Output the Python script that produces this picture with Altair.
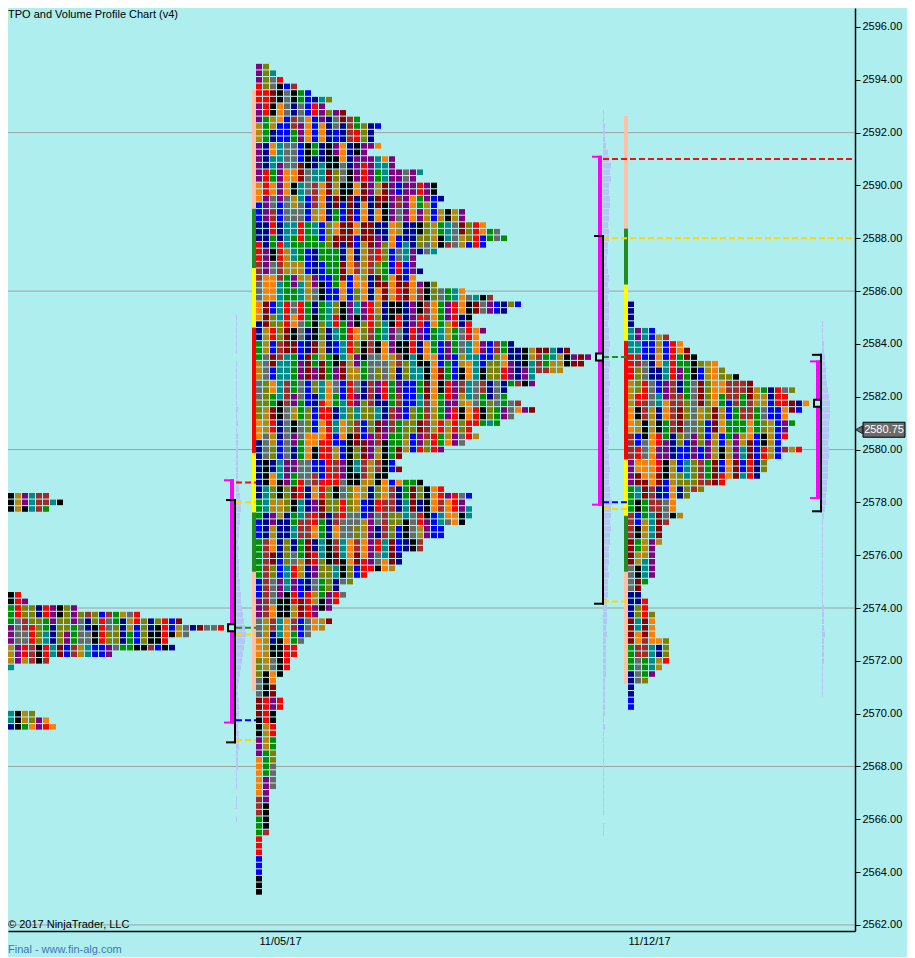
import altair as alt
import pandas as pd

# ---------------- data ----------------
TITLE = "TPO and Volume Profile Chart (v4)"
COPYRIGHT = "© 2017 NinjaTrader, LLC"
FOOTER = "Final - www.fin-alg.com"
LAST_PRICE = 2580.75

y_ticks = [2562, 2564, 2566, 2568, 2570, 2572, 2574, 2576, 2578, 2580,
           2582, 2584, 2586, 2588, 2590, 2592, 2594, 2596]
grid_prices = [2562, 2568, 2574, 2580, 2586, 2592]
date_labels = ["11/05/17", "11/12/17"]
date_pos = [280, 649]

palette = ["#008B8B", "#8B0000", "#009000", "#00008B", "#FF8000", "#800080",
           "#808000", "#A52A2A", "#696969", "#FF0000", "#0000FF", "#B8860B", "#000000"]

# profile 1 (previous week, partly visible)
p1_prices = [2578.25, 2578.0, 2577.75, 2574.75, 2574.5, 2574.25, 2574.0, 2573.75,
             2573.5, 2573.25, 2573.0, 2572.75, 2572.5, 2572.25, 2572.0, 2571.75,
             2570.0, 2569.75, 2569.5, 2569.25]
p1_counts = [7, 9, 7, 1, 3, 4, 11, 20, 26, 32, 27, 24, 25, 16, 7, 2, 5, 7, 8, 1]

# profile 2 (week of 11/05), rows from 2594.50 down by 0.25
p2_top = 2594.5
p2_counts = [2, 3, 4, 6, 8, 11, 10, 13, 15, 18, 17, 17, 18, 16, 20, 20, 24, 23, 26, 26,
             27, 26, 30, 30, 33, 35, 36, 33, 26,
             23, 23, 24, 23, 26, 30, 34, 38, 36, 31, 31, 33, 32, 37, 45, 48, 47, 44, 40, 40,
             36, 36, 38, 40, 37, 35, 31, 32, 30, 27, 21, 20, 21, 19,
             24, 27, 31, 30, 31, 31, 30, 27, 27, 24, 24, 21, 21, 20, 16, 14, 12, 13, 12, 11,
             9, 11, 10, 8, 7, 6, 6, 5, 5, 4, 3, 3,
             3, 4, 4, 3, 3, 3, 3, 3, 3, 3, 3, 3, 3, 3, 3, 2, 2, 2, 2, 2, 2, 2,
             1, 1, 1, 1, 1, 1, 1, 1, 1]

# profile 3 (week of 11/12), rows from 2585.50 down by 0.25
p3_top = 2585.5
p3_counts = [1, 1, 1, 1, 4, 6, 8, 9, 10, 13, 14, 16, 18, 24, 23, 26, 25, 23, 24, 23,
             23, 22, 25, 22, 20, 20, 19, 14, 11, 9,
             7, 7, 8, 6, 5, 5, 5, 4, 4, 4, 4, 4, 3, 2, 2, 3, 3, 4, 4, 4,
             4, 6, 6, 6, 6, 5, 4, 3, 1, 1, 1, 1]

# period / value-area colour bars at the left of profiles 2 and 3
p2_bar_edges = [2570.875, 2575.375, 2577.625, 2579.875, 2584.625, 2586.875, 2589.125, 2593.625]
p3_bar_edges = [2571.125, 2575.375, 2577.5, 2579.625, 2584.125, 2586.25, 2588.375, 2592.625]
bar_colors = ["#FFC1A6", "#228B22", "#FFFF00", "#FF0000", "#FFFF00", "#228B22", "#FFC1A6"]

# volume profiles (rows of 0.25 from the low price upward)
v1_low = 2566.0
v1 = [1, 0, 1, 1, 0, 1, 1, 1, 2,
      2, 2, 3, 3, 3, 2, 3, 3,
      3, 3, 2, 2, 3, 4, 5, 6,
      7, 8, 9, 10, 9, 8, 7, 6,
      5, 5, 4, 4, 3, 3, 3, 2,
      3, 2, 3, 3, 4, 4, 5, 5,
      4, 3, 3, 2, 2, 2, 2, 2,
      2, 2, 1, 2, 1, 2, 1, 1,
      1, 1, 1, 1, 1, 0, 1, 1, 1, 1, 1, 1]
v2_low = 2565.5
v2 = [1, 1, 0, 1, 1, 1, 1, 1, 1,
      1, 1, 1, 1, 1, 1, 1, 2, 1, 2,
      2, 2, 2, 2, 2, 3, 3, 3,
      3, 3, 3, 4, 3, 4, 4, 4,
      4, 5, 5, 5, 6, 5, 6, 6,
      6, 7, 7, 8, 7, 8, 8, 9,
      7, 7, 6, 6, 7, 6, 6, 5,
      6, 6, 5, 6, 6, 7, 6, 6,
      6, 7, 6, 6, 7, 6, 6, 7,
      6, 6, 5, 6, 6, 6, 5, 6,
      5, 6, 5, 4, 4, 5, 5, 6,
      6, 5, 6, 6, 7, 7, 6, 6,
      8, 7, 8, 6, 5, 3, 2, 2,
      2, 1, 1]
v3_low = 2570.75
v3 = [1, 1, 1, 1, 1, 2, 2, 2,
      2, 3, 2, 2, 2, 2, 1, 1,
      1, 1, 1, 1, 1, 1, 1, 1,
      1, 1, 1, 2, 3, 4, 4, 5,
      5, 6, 6, 6, 7, 7, 6, 7,
      7, 7, 8, 8, 8, 7, 6, 5,
      4, 4, 3, 3, 2, 2, 1, 1, 1]

# value areas and points of control per profile
va_tpo_lo = [2569.625, 2577.875, 2578.125]
va_tpo_hi = [2578.875, 2591.125, 2583.375]
va_vol_lo = [2568.875, 2574.125, 2577.625]
va_vol_hi = [2578.125, 2588.125, 2583.625]
poc = [2573.25, 2583.5, 2581.75]

# reference levels (dashed)
lvl_price = [2578.75, 2578.0, 2573.25, 2573.0, 2569.75, 2569.0,
             2591.0, 2588.0, 2583.5, 2578.0, 2577.75, 2574.25]
lvl_color = ["#F01010", "#FFD700", "#228B22", "#FFD700", "#0000FF", "#FFD700",
             "#F01010", "#FFD700", "#228B22", "#0000FF", "#FFD700", "#FFD700"]
lvl_profile = [0, 0, 0, 0, 0, 0, 1, 1, 1, 1, 1, 1]
lvl_naked = [False, False, False, False, False, False, True, True, False, False, False, False]

# ---------------- layout ----------------
FONT = "Liberation Sans"
BG = "#AFEEEE"
W, H = 847, 923
XMIN, XMAX = 8, 855
YMIN, YMAX = 2561.7702, 2596.7194
PX = (YMAX - YMIN) / H           # price per pixel
COL = 7
CELL_H = 0.21
profile_x = [1, 256, 628]
bracket_x = [230, 598, 816]
vol_x = [236, 603, 822]

# ---------------- tables ----------------
def shade(pi, r, c):
    run = 2 + (c * 7 + pi) % 3
    h = ((c + 1) * 73856093) ^ ((r // run + 1) * 19349663) ^ ((pi + 1) * 83492791)
    h = (h * 2654435761) & 0xFFFFFFFF
    return palette[(h >> 7) % len(palette)]

cells = []
def add_profile(pi, prices, counts, x0):
    for r, (p, n) in enumerate(zip(prices, counts)):
        for c in range(n):
            x = x0 + c * COL
            cells.append(dict(x=x, x2=x + COL - 1, y=p - CELL_H / 2, y2=p + CELL_H / 2,
                              color=shade(pi, r, c)))

add_profile(0, p1_prices, p1_counts, profile_x[0])
add_profile(1, [p2_top - 0.25 * i for i in range(len(p2_counts))], p2_counts, profile_x[1])
add_profile(2, [p3_top - 0.25 * i for i in range(len(p3_counts))], p3_counts, profile_x[2])
cells_df = pd.DataFrame(cells)

bars = []
for pi, edges in ((1, p2_bar_edges), (2, p3_bar_edges)):
    for i, col in enumerate(bar_colors):
        bars.append(dict(x=profile_x[pi] - 4, x2=profile_x[pi], y=edges[i], y2=edges[i + 1], color=col))
bars_df = pd.DataFrame(bars)

vols = []
for pi, (low, vals) in enumerate(((v1_low, v1), (v2_low, v2), (v3_low, v3))):
    for i, v in enumerate(vals):
        if v > 0:
            p = low + 0.25 * i
            vols.append(dict(x=vol_x[pi], x2=vol_x[pi] + v, y=p - 0.11, y2=p + 0.11))
vols_df = pd.DataFrame(vols)

lines = []
for p, c, pi, nk in zip(lvl_price, lvl_color, lvl_profile, lvl_naked):
    x0 = vol_x[pi]
    x1 = XMAX if nk else profile_x[pi + 1]
    lines.append(dict(x=x0, x2=x1, y=p, color=c))
lines_df = pd.DataFrame(lines)

brk = []
t = 2 * PX
for i in range(3):
    b = bracket_x[i]
    brk += [
        dict(x=b, x2=b + 4, y=va_tpo_lo[i], y2=va_tpo_hi[i], color="#FF00FF"),
        dict(x=b - 6, x2=b + 4, y=va_tpo_hi[i] - t, y2=va_tpo_hi[i], color="#FF00FF"),
        dict(x=b - 6, x2=b + 4, y=va_tpo_lo[i], y2=va_tpo_lo[i] + t, color="#FF00FF"),
        dict(x=b + 4, x2=b + 6, y=va_vol_lo[i], y2=va_vol_hi[i], color="#000000"),
        dict(x=b - 4, x2=b + 6, y=va_vol_hi[i] - t, y2=va_vol_hi[i], color="#000000"),
        dict(x=b - 4, x2=b + 6, y=va_vol_lo[i], y2=va_vol_lo[i] + t, color="#000000"),
    ]
brk_df = pd.DataFrame(brk)

poc_df = pd.DataFrame([dict(x=bracket_x[i] - 2, x2=bracket_x[i] + 5,
                            y=poc[i] - 3.5 * PX, y2=poc[i] + 3.5 * PX) for i in range(3)])

# ---------------- encodings ----------------
label_expr = f"datum.value < {(date_pos[0] + date_pos[1]) / 2} ? '{date_labels[0]}' : '{date_labels[1]}'"
x_axis = alt.Axis(title=None, values=date_pos, labelExpr=label_expr, ticks=False, grid=False,
                  domainColor="black", domainWidth=1.5, labelFont=FONT, labelFontSize=11,
                  labelColor="black", labelPadding=4, labelAngle=0, labelFlush=False)
y_axis = alt.Axis(orient="right", title=None, values=y_ticks, format=".2f", grid=False,
                  tickSize=5, tickColor="black", domainColor="black", domainWidth=1.5,
                  labelFont=FONT, labelFontSize=11, labelColor="black", labelPadding=2,
                  labelFlush=False)
xs = alt.Scale(domain=[XMIN, XMAX], nice=False, zero=False)
ys = alt.Scale(domain=[YMIN, YMAX], nice=False, zero=False)

def X(f="x"):
    return alt.X(f"{f}:Q", scale=xs, axis=x_axis)

def Y(f="y"):
    return alt.Y(f"{f}:Q", scale=ys, axis=y_axis)

grid = alt.Chart(pd.DataFrame({"y": grid_prices})).mark_rule(
    color="#A0A0A0", strokeWidth=1).encode(y=Y())

vol_layer = alt.Chart(vols_df).mark_rect(color="#B4C6F4").encode(
    x=X(), x2="x2:Q", y=Y(), y2="y2:Q")

cell_layer = alt.Chart(cells_df).mark_rect().encode(
    x=X(), x2="x2:Q", y=Y(), y2="y2:Q", color=alt.Color("color:N", scale=None))

bar_layer = alt.Chart(bars_df).mark_rect().encode(
    x=X(), x2="x2:Q", y=Y(), y2="y2:Q", color=alt.Color("color:N", scale=None))

line_layer = alt.Chart(lines_df).mark_rule(strokeWidth=2, strokeDash=[6, 3]).encode(
    x=X(), x2="x2:Q", y=Y(), color=alt.Color("color:N", scale=None))

brk_layer = alt.Chart(brk_df).mark_rect().encode(
    x=X(), x2="x2:Q", y=Y(), y2="y2:Q", color=alt.Color("color:N", scale=None))

poc_layer = alt.Chart(poc_df).mark_rect(fill=BG, stroke="black", strokeWidth=2).encode(
    x=X(), x2="x2:Q", y=Y(), y2="y2:Q")

lp = pd.DataFrame({"y": [LAST_PRICE], "lo": [LAST_PRICE - 7.5 * PX], "hi": [LAST_PRICE + 7.5 * PX],
                   "t": [f"{LAST_PRICE:.2f}"]})
lp_box = alt.Chart(lp).mark_rect(fill="#6B6B6B", stroke="black", strokeWidth=1).encode(
    x=alt.value(855), x2=alt.value(897), y=alt.Y("lo:Q", scale=ys, axis=y_axis), y2="hi:Q")
lp_tri = alt.Chart(lp).mark_point(shape="triangle-left", filled=True, size=60, color="#6B6B6B",
                                  stroke="black", strokeWidth=0.8, opacity=1).encode(
    x=alt.value(851), y=Y())
lp_txt = alt.Chart(lp).mark_text(color="white", font=FONT, fontSize=11, align="center",
                                 baseline="middle").encode(x=alt.value(876), y=Y(), text="t:N")

def label(txt, x, y, color="black"):
    return alt.Chart(pd.DataFrame({"t": [txt]})).mark_text(
        font=FONT, fontSize=11, color=color, align="left", baseline="middle").encode(
        x=alt.value(x), y=alt.value(y), text="t:N")

chart = alt.layer(
    grid, vol_layer, cell_layer, bar_layer, line_layer, brk_layer, poc_layer,
    lp_box, lp_tri, lp_txt,
    label(TITLE, 0, 7), label(COPYRIGHT, 0, 917), label(FOOTER, 0, 942, "#3A78B5"),
).properties(
    width=W, height=H, background=BG,
    autosize=alt.AutoSizeParams(type="none"),
    padding={"left": 0, "top": 0, "right": 52, "bottom": 26},
).configure_view(stroke=None)

chart.save("out.html", embed_options={"renderer": "svg", "actions": False})
